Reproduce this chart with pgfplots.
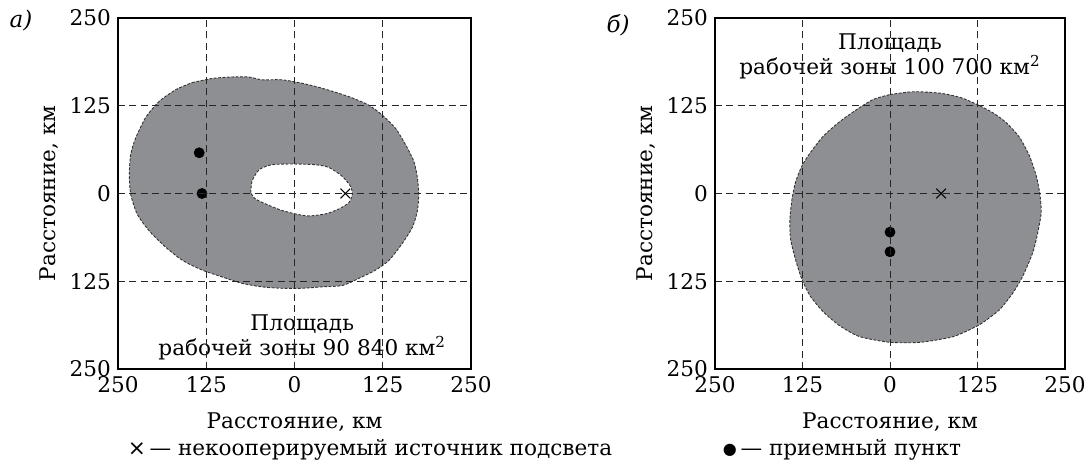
\documentclass[border=0pt]{standalone}
\usepackage{pgfplots}
\pgfplotsset{compat=1.18}
\usepackage{fontspec}
\setmainfont{DejaVu Serif}
\newfontfamily\symfont{DejaVu Sans}
\definecolor{zone}{RGB}{142,143,147}
\definecolor{edge}{RGB}{50,50,50}
\newcommand{\fs}{\fontsize{10.8}{12.5}\selectfont}
\pgfplotsset{
  panel/.style={
    anchor=south west, scale only axis,
    xmin=-250, xmax=250, ymin=-250, ymax=250,
    xtick={-250,-125,0,125,250}, xticklabels={250,125,0,125,250},
    ytick={-250,-125,0,125,250}, yticklabels={250,125,0,125,250},
    grid=major,
    major grid style={black!85, line width=0.45pt, dash pattern=on 3.5pt off 2.2pt},
    major tick length=0pt,
    axis line style={line width=0.7pt},
    set layers, axis on top,
    /pgf/number format/assume math mode=true,
    font=\fs,
    tick label style={font=\fs},
    label style={font=\fs},
    xlabel style={yshift=-3.5pt},
    ylabel style={yshift=-1pt},
    xlabel={Расстояние, км}, ylabel={Расстояние, км},
  },
  zonestyle/.style={smooth, tension=0.4, fill=zone, draw=edge, line width=0.45pt, dash pattern=on 1.4pt off 0.8pt},
  holestyle/.style={smooth, tension=0.4, fill=white, draw=edge, line width=0.45pt, dash pattern=on 1.4pt off 0.8pt},
}
\begin{document}
\begin{tikzpicture}
\begin{axis}[panel, at={(59pt,47pt)}, width=176.5pt, height=175.5pt]
\addplot[zonestyle] coordinates {
(-145,158) (-116,164) (-88,166) (-65,166) (-46,162) (-18,162) (11,157) (39,150) (77,138) (105,126) (124,112) (143,93) (157,70) (169,46) (174,23) (176,-1) (174,-25) (167,-48) (152,-72) (134,-95) (115,-109) (91,-121) (68,-131) (39,-133) (11,-135) (-18,-135) (-46,-133) (-74,-128) (-102,-119) (-131,-109) (-159,-95) (-183,-76) (-206,-53) (-223,-29) (-232,-1) (-234,27) (-232,56) (-225,79) (-211,108) (-192,131) (-168,148) (-145,158)
} -- cycle;
\addplot[holestyle] coordinates {
(-62,1) (-60,18) (-50,34) (-32,41) (-3,42) (30,41) (49,37) (67,25) (79,11) (82,-1) (77,-13) (63,-22) (44,-29) (20,-32) (1,-29) (-18,-24) (-36,-17) (-55,-8) (-62,1)
} -- cycle;
\addplot[only marks, mark=*, mark size=2.5pt, black, on layer=axis foreground] coordinates {(-135,58) (-131,0)};
\addplot[only marks, mark=x, mark size=3.4pt, black, line width=0.5pt, on layer=axis foreground] coordinates {(72,0)};
\node[align=center, font=\fs] at (axis cs:11,-205) {Площадь\\рабочей зоны 90 840 км\textsuperscript{2}};
\end{axis}
\begin{axis}[panel, at={(357.5pt,47pt)}, width=175pt, height=175.5pt]
\addplot[zonestyle] coordinates {
(0,141) (33,145) (71,143) (100,137) (124,127) (147,115) (166,101) (185,80) (199,54) (209,25) (214,0) (216,-27) (211,-56) (204,-84) (190,-117) (176,-141) (157,-165) (138,-180) (124,-189) (90,-204) (43,-212) (0,-212) (-43,-204) (-71,-189) (-95,-169) (-114,-146) (-126,-122) (-135,-94) (-142,-65) (-143,-37) (-140,-8) (-135,16) (-126,39) (-114,58) (-95,82) (-71,103) (-47,120) (-24,134) (0,141)
} -- cycle;
\addplot[only marks, mark=*, mark size=2.5pt, black, on layer=axis foreground] coordinates {(0,-55) (0,-83)};
\addplot[only marks, mark=x, mark size=3.4pt, black, line width=0.5pt, on layer=axis foreground] coordinates {(73,0)};
\node[align=center, font=\fs] at (axis cs:0,195) {Площадь\\рабочей зоны 100 700 км\textsuperscript{2}};
\end{axis}
\node[font=\fontsize{11.5}{13}\selectfont\itshape] at (10.5pt,221pt) {а)};
\node[font=\fontsize{11.5}{13}\selectfont\itshape] at (309pt,219pt) {б)};
\node[font=\fs] at (185pt,6.5pt) {{\symfont ×}\,— некооперируемый источник подсвета};
\node[font=\fs] at (421pt,6.5pt) {\raisebox{0.6pt}{\symfont\fontsize{8}{8}\selectfont ●}\,— приемный пункт};
\pgfresetboundingbox
\path (0,0) rectangle (546pt,231.5pt);
\end{tikzpicture}
\end{document}
